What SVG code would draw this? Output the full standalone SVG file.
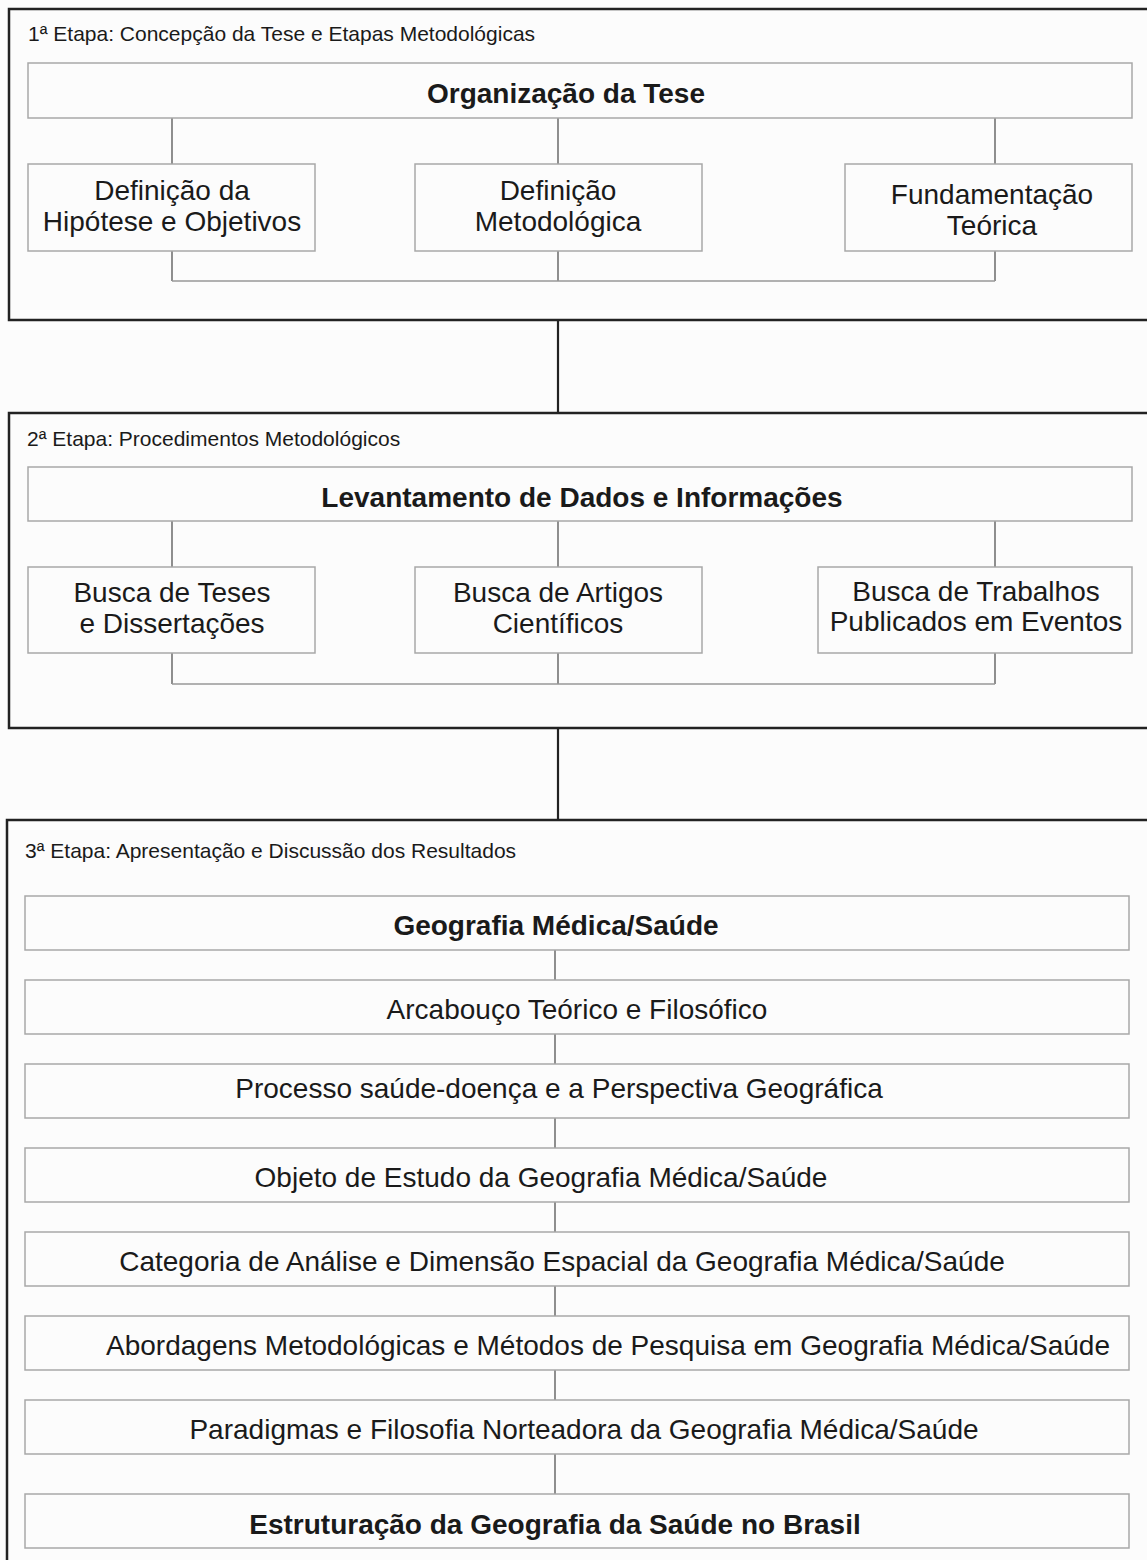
<svg xmlns="http://www.w3.org/2000/svg" width="1147" height="1560" viewBox="0 0 1147 1560">
<style>
  .bg{fill:#fcfcfc}
  .stage{fill:#fcfcfc;stroke:#222;stroke-width:2.5}
  .box{fill:#fcfcfc;stroke:#a8a8a8;stroke-width:1.5}
  .conn{fill:none;stroke:#555;stroke-width:1.3}
  .conn2{fill:none;stroke:#999;stroke-width:1.3}
  .link{fill:none;stroke:#222;stroke-width:2.2}
  text{font-family:"Liberation Sans",Arial,sans-serif;fill:#1a1a1a}
  .title{font-size:21px}
  .t{font-size:28px;text-anchor:middle}
  .b{font-size:28px;font-weight:bold;text-anchor:middle}
</style>
<rect class="bg" x="0" y="0" width="1147" height="1560"/>

<!-- stage frames -->
<g id="stage1">
  <rect class="stage" x="9" y="9" width="1160" height="311"/>
  <text class="title" x="28" y="41">1ª Etapa: Concepção da Tese e Etapas Metodológicas</text>
</g>
<g id="stage2">
  <rect class="stage" x="9" y="413" width="1160" height="315"/>
  <text class="title" x="27" y="446">2ª Etapa: Procedimentos Metodológicos</text>
</g>
<g id="stage3">
  <rect class="stage" x="7" y="820" width="1160" height="760"/>
  <text class="title" x="25" y="858">3ª Etapa: Apresentação e Discussão dos Resultados</text>
</g>

<!-- connectors -->
<g id="connectors">
  <line class="link" x1="558" y1="320" x2="558" y2="413"/>
  <line class="link" x1="558" y1="728" x2="558" y2="820"/>
  <!-- stage 1 -->
  <path class="conn" d="M172 118V164M558 118V164M995 118V164"/>
  <path class="conn" d="M172 251V281M558 251V281M995 251V281"/>
  <path class="conn2" d="M172 281H995"/>
  <!-- stage 2 -->
  <path class="conn" d="M172 521V567M558 521V567M995 521V567"/>
  <path class="conn" d="M172 653V684M558 653V684M995 653V684"/>
  <path class="conn2" d="M172 684H995"/>
  <!-- stage 3 -->
  <path class="conn" d="M555 950V980M555 1034V1064M555 1118V1148M555 1202V1232M555 1286V1316M555 1370V1400M555 1454V1494"/>
</g>

<!-- stage 1 nodes -->
<g id="n-organizacao">
  <rect class="box" x="28" y="63" width="1104" height="55"/>
  <text class="b" x="566" y="103">Organização da Tese</text>
</g>
<g id="n-hipotese">
  <rect class="box" x="28" y="164" width="287" height="87"/>
  <text class="t" x="172" y="200">Definição da</text>
  <text class="t" x="172" y="231">Hipótese e Objetivos</text>
</g>
<g id="n-metodologica">
  <rect class="box" x="415" y="164" width="287" height="87"/>
  <text class="t" x="558" y="200">Definição</text>
  <text class="t" x="558" y="231">Metodológica</text>
</g>
<g id="n-fundamentacao">
  <rect class="box" x="845" y="164" width="287" height="87"/>
  <text class="t" x="992" y="204">Fundamentação</text>
  <text class="t" x="992" y="235">Teórica</text>
</g>

<!-- stage 2 nodes -->
<g id="n-levantamento">
  <rect class="box" x="28" y="467" width="1104" height="54"/>
  <text class="b" x="582" y="507">Levantamento de Dados e Informações</text>
</g>
<g id="n-teses">
  <rect class="box" x="28" y="567" width="287" height="86"/>
  <text class="t" x="172" y="602">Busca de Teses</text>
  <text class="t" x="172" y="633">e Dissertações</text>
</g>
<g id="n-artigos">
  <rect class="box" x="415" y="567" width="287" height="86"/>
  <text class="t" x="558" y="602">Busca de Artigos</text>
  <text class="t" x="558" y="633">Científicos</text>
</g>
<g id="n-eventos">
  <rect class="box" x="818" y="567" width="314" height="86"/>
  <text class="t" x="976" y="601">Busca de Trabalhos</text>
  <text class="t" x="976" y="631">Publicados em Eventos</text>
</g>

<!-- stage 3 nodes -->
<g id="n-geografia">
  <rect class="box" x="25" y="896" width="1104" height="54"/>
  <text class="b" x="556" y="935">Geografia Médica/Saúde</text>
</g>
<g id="n-arcabouco">
  <rect class="box" x="25" y="980" width="1104" height="54"/>
  <text class="t" x="577" y="1019">Arcabouço Teórico e Filosófico</text>
</g>
<g id="n-processo">
  <rect class="box" x="25" y="1064" width="1104" height="54"/>
  <text class="t" x="559" y="1098">Processo saúde-doença e a Perspectiva Geográfica</text>
</g>
<g id="n-objeto">
  <rect class="box" x="25" y="1148" width="1104" height="54"/>
  <text class="t" x="541" y="1187">Objeto de Estudo da Geografia Médica/Saúde</text>
</g>
<g id="n-categoria">
  <rect class="box" x="25" y="1232" width="1104" height="54"/>
  <text class="t" x="562" y="1271">Categoria de Análise e Dimensão Espacial da Geografia Médica/Saúde</text>
</g>
<g id="n-abordagens">
  <rect class="box" x="25" y="1316" width="1104" height="54"/>
  <text class="t" x="608" y="1355">Abordagens Metodológicas e Métodos de Pesquisa em Geografia Médica/Saúde</text>
</g>
<g id="n-paradigmas">
  <rect class="box" x="25" y="1400" width="1104" height="54"/>
  <text class="t" x="584" y="1439">Paradigmas e Filosofia Norteadora da Geografia Médica/Saúde</text>
</g>
<g id="n-estruturacao">
  <rect class="box" x="25" y="1494" width="1104" height="54"/>
  <text class="b" x="555" y="1534">Estruturação da Geografia da Saúde no Brasil</text>
</g>
</svg>
